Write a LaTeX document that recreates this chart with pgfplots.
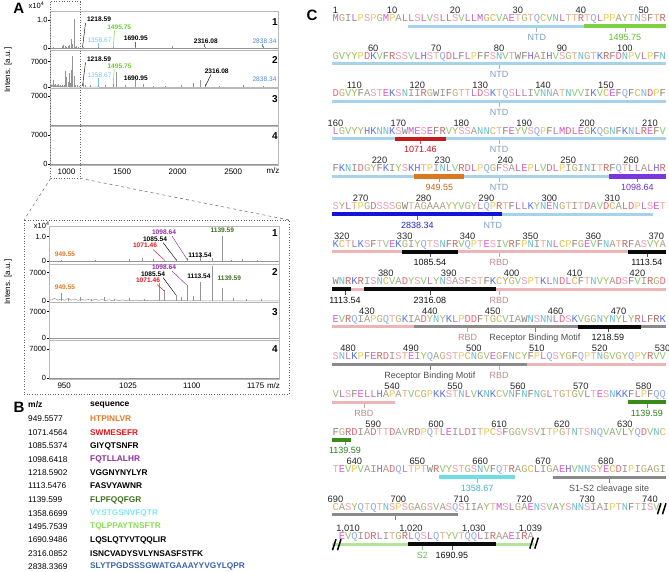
\documentclass[border=0pt]{standalone}
\usepackage{pgfplots}
\usepackage{pgfplotstable}
\pgfplotsset{compat=1.18}
\usepackage{fontspec}
\setmainfont{Liberation Sans}
\setsansfont{Liberation Sans}
\setmonofont{Liberation Mono}

% residue colours
\definecolor{aaA}{HTML}{9A8A76}
\definecolor{aaR}{HTML}{B5504C}
\definecolor{aaN}{HTML}{4FB3BF}
\definecolor{aaD}{HTML}{E0506E}
\definecolor{aaC}{HTML}{D6A93A}
\definecolor{aaQ}{HTML}{7D9EE0}
\definecolor{aaE}{HTML}{D63FCF}
\definecolor{aaG}{HTML}{A6A55E}
\definecolor{aaH}{HTML}{6A52C8}
\definecolor{aaI}{HTML}{8C8274}
\definecolor{aaL}{HTML}{B25F9E}
\definecolor{aaK}{HTML}{3D5DE0}
\definecolor{aaM}{HTML}{C23FB6}
\definecolor{aaF}{HTML}{7B6A5A}
\definecolor{aaP}{HTML}{E6C43E}
\definecolor{aaS}{HTML}{E98AA8}
\definecolor{aaT}{HTML}{E0A27A}
\definecolor{aaW}{HTML}{6E6E6E}
\definecolor{aaY}{HTML}{95AD3E}
\definecolor{aaV}{HTML}{79BE58}

% domain bars
\definecolor{ntd}{HTML}{A6D2EC}
\definecolor{rbd}{HTML}{EDB6B6}
\definecolor{rbm}{HTML}{8A8A8A}
\definecolor{s2bar}{HTML}{B2E49A}
% peptide bars
\definecolor{pg1495}{HTML}{7FD040}
\definecolor{pr1071}{HTML}{C41A1A}
\definecolor{po949}{HTML}{D9781E}
\definecolor{pp1098}{HTML}{7B35E0}
\definecolor{pb2838}{HTML}{1414D8}
\definecolor{pc1358}{HTML}{6EDDE8}
\definecolor{pdg1139}{HTML}{3A8A1C}
\definecolor{pblk}{HTML}{0A0A0A}
% label colours
\definecolor{ntdl}{HTML}{7C9FBF}
\definecolor{rbdl}{HTML}{B98A8A}
\definecolor{rbml}{HTML}{505050}
\definecolor{s2l}{HTML}{6CB860}
\definecolor{blk}{HTML}{111111}
\definecolor{g1495l}{HTML}{5DBB2A}
\definecolor{r1071l}{HTML}{C0141C}
\definecolor{o949l}{HTML}{C8671A}
\definecolor{p1098l}{HTML}{6A2FD0}
\definecolor{b2838l}{HTML}{2222C8}
\definecolor{c1358l}{HTML}{3FB5C0}
\definecolor{dg1139l}{HTML}{2E7D1A}
% spectrum annotation colours
\definecolor{sOr}{HTML}{E07A26}
\definecolor{sRd}{HTML}{E8141C}
\definecolor{sPu}{HTML}{8E2DA0}
\definecolor{sDg}{HTML}{3F6F1E}
\definecolor{sLb}{HTML}{7EC4F0}
\definecolor{sLg}{HTML}{6ACC30}
\definecolor{sBl}{HTML}{4F86D6}
\definecolor{tCy}{HTML}{80E8F5}
\definecolor{tLg}{HTML}{88DC58}
\definecolor{tBl}{HTML}{3B63B0}

% colour each residue letter of a sequence string
\newcommand\colseq[1]{\colseqi#1\relax}
\def\colseqi#1{\ifx\relax#1\else\textcolor{aa#1!85!white}{#1}\expandafter\colseqi\fi}

\newcommand\seqfont{\fontsize{10.483}{12}\ttfamily}
\newcommand\labfont{\fontsize{9}{10}\selectfont}

% MALDI spectra, lane 1 and lane 2
\pgfplotstableread{
mz int
949.55 300
968 150
990 250
1012 200
1030 700
1045 1200
1058 900
1071.46 600
1085.54 900
1098.64 1300
1113.54 3200
1127 1400
1139.59 10300
1150 500
1163 800
1180 300
1218.59 600
1265 250
1358.67 600
1430 200
1495.75 500
1580 200
1690.95 700
1790 150
2019 900
2150 200
2316.08 500
2560 150
2838.34 800
}\laneone

\pgfplotstableread{
mz int
949.55 2000
958 700
972 900
985 600
1000 900
1012 500
1030 700
1048 600
1065 4400
1071.46 2700
1085.54 1500
1091 900
1098.64 4000
1105 1200
1113.54 4800
1127 8600
1139.59 3200
1152 700
1168 500
1185 400
1218.59 1100
1245 700
1290 500
1358.67 1400
1420 600
1495.75 900
1524 4300
1600 600
1690.95 1900
1761 1000
1850 400
1960 300
2100 500
2208 1200
2274 2000
2316.08 800
2450 300
2661 600
2838.34 400
}\lanetwo

\pgfplotstableread{
mz int
930 300
934 550
938 200
942 650
946 250
950 500
954 180
958 600
962 220
966 480
970 150
974 420
978 200
982 380
986 120
990 450
994 160
998 350
1002 120
1006 300
1010 100
1014 280
1018 90
1022 260
1026 80
1030 240
1034 70
1038 220
1042 60
1046 200
1050 80
1054 180
1058 60
1062 160
1066 50
1070 150
1080 60
1090 120
1100 40
1110 90
1120 30
1140 60
1160 20
1200 40
1300 20
1500 10
2000 10
2975 0
}\noisetwo

\pgfplotsset{
  spec/.style={scale only axis, width=227.3pt,
    axis line style={draw=black!28, line width=0.5pt},
    xtick=\empty, ytick pos=left, tick align=outside,
    scaled y ticks=false, scaled x ticks=false,
    major tick length=2.5pt, tick style={black, line width=0.5pt},
    yticklabel style={font=\fontsize{7.5}{8}\selectfont, inner sep=0.5pt}},
  peaks/.style={ycomb, draw=black!42, line width=0.45pt, mark=none},
  base/.style={draw=black!42, line width=0.5pt, mark=none},
  bar/.style={line width=3pt, mark=none},
  pep/.style={line width=4.2pt, mark=none},
}

\tikzset{
  ann/.style={font=\fontsize{6.6}{7}\selectfont\bfseries, inner sep=0},
  pnum/.style={font=\fontsize{10}{11}\selectfont\bfseries, inner sep=0},
  seqn/.style={anchor=base west, inner sep=0, yshift=4.5pt, font=\seqfont},
  numn/.style={anchor=base, inner sep=0, yshift=12.6pt, font=\fontsize{9.3}{10}\selectfont, text=black!85},
  labn/.style={anchor=base, inner sep=0, yshift=-14pt, font=\labfont},
  tab/.style={anchor=west, inner sep=0, font=\fontsize{8.3}{9}\selectfont},
}

% label below a bar, with its tick
\newcommand\lab[4]{%
  \draw[draw=#3!75!white, line width=0.6pt] (axis cs:#1,#2) -- ++(0pt,-5.5pt);
  \node[labn, text=#3] at (axis cs:#1,#2) {#4};}
\newcommand\num[3]{\node[numn] at (axis cs:#1,#2) {#3};}

\begin{document}
\begin{tikzpicture}[x=1pt,y=1pt]

% ---------------- Panel A: full range
\begin{axis}[spec, anchor=north west, at={(50.7pt,-11.7pt)}, height=38.3pt,
  xmin=930, xmax=2975, ymin=-600, ymax=12930, ytick={0,10000}, yticklabels={0,1.0}]
\addplot[base] coordinates {(930,0)(2975,0)};
\addplot[peaks] table[x=mz,y=int] {\laneone};
\end{axis}
\begin{axis}[spec, anchor=north west, at={(50.7pt,-50pt)}, height=38.3pt,
  xmin=930, xmax=2975, ymin=-270, ymax=10200, ytick={0,7000}, yticklabels={0,7000}]
\addplot[base] table[x=mz,y=int] {\noisetwo};
\addplot[peaks] table[x=mz,y=int] {\lanetwo};
\end{axis}
\begin{axis}[spec, anchor=north west, at={(50.7pt,-88.3pt)}, height=38.4pt,
  xmin=930, xmax=2975, ymin=-330, ymax=8840, ytick={7000}, yticklabels={7000}]
\addplot[base] coordinates {(930,0)(2975,0)};
\end{axis}
\begin{axis}[spec, anchor=north west, at={(50.7pt,-126.7pt)}, height=38.3pt,
  xmin=930, xmax=2975, ymin=-170, ymax=8980, ytick={0,7000}, yticklabels={0,7000},
  xtick={1000,1500,2000,2500}, xticklabels={1000,1500,2000,2500},
  xtick pos=bottom, xtick style={draw=none},
  xticklabel style={font=\fontsize{8}{9}\selectfont, inner sep=1pt, xshift=8pt}]
\addplot[base] coordinates {(930,0)(2975,0)};
\end{axis}

% ---------------- Panel A: zoomed range
\begin{axis}[spec, width=229.7pt, anchor=north west, at={(49.3pt,-226.5pt)}, height=37.5pt,
  xmin=936, xmax=1206, ymin=-1230, ymax=14200, ytick={0,10000}, yticklabels={0,1.0}]
\addplot[base] coordinates {(936,0)(1206,0)};
\addplot[peaks] table[x=mz,y=int] {\laneone};
\end{axis}
\begin{axis}[spec, width=229.7pt, anchor=north west, at={(49.3pt,-264pt)}, height=38.3pt,
  xmin=936, xmax=1206, ymin=-320, ymax=9150, ytick={0,7000}, yticklabels={0,7000}]
\addplot[base] table[x=mz,y=int] {\noisetwo};
\addplot[peaks] table[x=mz,y=int] {\lanetwo};
\end{axis}
\begin{axis}[spec, width=229.7pt, anchor=north west, at={(49.3pt,-302.3pt)}, height=38.4pt,
  xmin=936, xmax=1206, ymin=-630, ymax=9470, ytick={0,7000}, yticklabels={0,7000}]
\addplot[base] coordinates {(936,0)(1206,0)};
\end{axis}
\begin{axis}[spec, width=229.7pt, anchor=north west, at={(49.3pt,-340.7pt)}, height=38.6pt,
  xmin=936, xmax=1206, ymin=-240, ymax=8980, ytick={0,7000}, yticklabels={0,7000},
  xtick={950,1025,1100,1175}, xticklabels={950,1025,1100,1175},
  xtick pos=bottom, xtick style={draw=none},
  xticklabel style={font=\fontsize{8}{9}\selectfont, inner sep=1pt, xshift=3pt}]
\addplot[base] coordinates {(936,0)(1206,0)};
\end{axis}

% zoom frames
\draw[black!60, dotted, line width=0.6pt] (50.7,-1.7) rectangle (80,-178.3);
\draw[black!60, dotted, line width=0.6pt] (24,-220) rectangle (289,-394);
\draw[black!60, dashed, line width=0.5pt] (50.7,-178.3) -- (24,-220);
\draw[black!60, dashed, line width=0.5pt] (80,-178.3) -- (289,-220);

% axis captions
\node[font=\fontsize{7.5}{8}\selectfont, inner sep=0] at (36.5,-5) {x10\textsuperscript{4}};
\node[font=\fontsize{7.5}{8}\selectfont, inner sep=0] at (41.7,-225.3) {x10\textsuperscript{4}};
\node[font=\fontsize{8}{9}\selectfont, inner sep=0] at (273,-171) {m/z};
\node[font=\fontsize{8}{9}\selectfont, inner sep=0] at (273.5,-386) {m/z};
\node[font=\fontsize{8}{9}\selectfont, inner sep=0, rotate=90] at (8,-70) {Intens. [a.u.]};
\node[font=\fontsize{8}{9}\selectfont, inner sep=0, rotate=90] at (8,-282) {Intens. [a.u.]};

% lane numbers
\node[pnum] at (275,-22) {1};
\node[pnum] at (275,-60) {2};
\node[pnum] at (275,-99) {3};
\node[pnum] at (275,-136) {4};
\node[pnum] at (275,-233) {1};
\node[pnum] at (275,-272) {2};
\node[pnum] at (275,-311.7) {3};
\node[pnum] at (275,-349) {4};

% peak annotations, full range lane 1
\node[ann, text=black] at (99,-19.3) {1218.59};
\draw[black, line width=0.45pt] (85.5,-23) -- (82.5,-47.5);
\node[ann, text=sLg] at (119.2,-27.3) {1495.75};
\draw[sLg, line width=0.45pt] (114.5,-30.5) -- (113.3,-47.5);
\node[ann, text=sLb, font=\fontsize{6.6}{7}\selectfont] at (99.5,-40) {1358.67};
\draw[sLb, line width=0.45pt] (98.3,-43.2) -- (98.3,-47.5);
\node[ann, text=black] at (135.8,-38.3) {1690.95};
\draw[black!60, line width=0.45pt] (135.2,-42) -- (135.2,-47.5);
\node[ann, text=black] at (205.8,-41) {2316.08};
\draw[black!60, line width=0.45pt] (204.7,-44.5) -- (204.7,-47.5);
\node[ann, text=sBl, font=\fontsize{6.6}{7}\selectfont] at (264.5,-41) {2838.34};
\draw[sBl, line width=0.45pt] (262.7,-44.5) -- (262.7,-47.5);
% full range lane 2
\node[ann, text=black] at (99,-59) {1218.59};
\draw[black, line width=0.45pt] (85.5,-62.5) -- (82.5,-86);
\node[ann, text=sLg] at (119.5,-66) {1495.75};
\draw[sLg, line width=0.45pt] (114.2,-69.3) -- (113.3,-86);
\node[ann, text=sLb, font=\fontsize{6.6}{7}\selectfont] at (99.5,-75) {1358.67};
\draw[sLb, line width=0.45pt] (98.3,-78.3) -- (98.3,-86);
\node[ann, text=black] at (135.8,-78) {1690.95};
\node[ann, text=black] at (216.7,-71) {2316.08};
\draw[black, line width=0.45pt] (211,-74.5) -- (205.5,-86);
\node[ann, text=sBl, font=\fontsize{6.6}{7}\selectfont] at (264.5,-79) {2838.34};
% zoomed lane 1
\node[ann, text=sOr] at (65,-254) {949.55};
\node[ann, text=sRd] at (145,-245.7) {1071.46};
\draw[sRd, line width=0.45pt] (153,-249.5) -- (164.4,-260);
\node[ann, text=black] at (155,-239) {1085.54};
\draw[black, line width=0.45pt] (163,-242.5) -- (176.3,-260);
\node[ann, text=sPu] at (164,-232.7) {1098.64};
\draw[sPu, line width=0.45pt] (172,-236) -- (187.5,-260);
\node[ann, text=black] at (200,-255) {1113.54};
\node[ann, text=sDg] at (222.3,-230) {1139.59};
% zoomed lane 2
\node[ann, text=sOr] at (65,-287.3) {949.55};
\node[ann, text=sRd] at (148,-280.7) {1071.46};
\draw[sRd, line width=0.45pt] (157,-284.5) -- (164.4,-291);
\node[ann, text=black] at (153,-274.3) {1085.54};
\draw[black, line width=0.45pt] (163,-277.5) -- (176,-295);
\node[ann, text=sPu] at (164,-267.7) {1098.64};
\draw[sPu, line width=0.45pt] (172,-271) -- (186.7,-285);
\node[ann, text=black] at (199,-276) {1113.54};
\node[ann, text=sDg] at (229.3,-278.3) {1139.59};

% panel letters
\node[font=\fontsize{15}{16}\selectfont\bfseries, inner sep=0] at (18.8,-8.7) {A};
\node[font=\fontsize{15}{16}\selectfont\bfseries, inner sep=0] at (19,-407.5) {B};
\node[font=\fontsize{15}{16}\selectfont\bfseries, inner sep=0] at (312,-15) {C};

% ---------------- Panel B: peptide table
\node[tab, font=\fontsize{8.5}{9}\selectfont\bfseries] at (28,-405) {m/z};
\node[tab, font=\fontsize{8.5}{9}\selectfont\bfseries] at (90,-405) {sequence};
\node[tab] at (28,-419) {949.5577};
\node[tab] at (28,-433) {1071.4564};
\node[tab] at (28,-446) {1085.5374};
\node[tab] at (28,-459.3) {1098.6418};
\node[tab] at (28,-472.7) {1218.5902};
\node[tab] at (28,-486) {1113.5476};
\node[tab] at (28,-500) {1139.599};
\node[tab] at (28,-513.3) {1358.6699};
\node[tab] at (28,-526.7) {1495.7539};
\node[tab] at (28,-540) {1690.9486};
\node[tab] at (28,-553.3) {2316.0852};
\node[tab] at (28,-566.3) {2838.3369};
\node[tab, text=sOr] at (90,-419) {\bfseries HTPINLVR};
\node[tab, text=sRd] at (90,-433) {\bfseries SWMESEFR};
\node[tab, text=black] at (90,-446) {\bfseries GIYQTSNFR};
\node[tab, text=sPu] at (90,-459.3) {\bfseries FQTLLALHR};
\node[tab, text=black] at (90,-472.7) {\bfseries VGGNYNYLYR};
\node[tab, text=black] at (90,-486) {\bfseries FASVYAWNR};
\node[tab, text=sDg] at (90,-500) {\bfseries FLPFQQFGR};
\node[tab, text=tCy] at (90,-513.3) {\bfseries VYSTGSNVFQTR};
\node[tab, text=tLg] at (90,-526.7) {\bfseries TQLPPAYTNSFTR};
\node[tab, text=black] at (90,-540) {\bfseries LQSLQTYVTQQLIR};
\node[tab, text=black] at (90,-553.3) {\bfseries ISNCVADYSVLYNSASFSTFK};
\node[tab, text=tBl] at (90,-566.3) {\bfseries SLYTPGDSSSGWATGAAAYYVGYLQPR};

% ---------------- Panel C: sequence coverage map
\begin{axis}[x=6.29pt, y=37.6pt, y dir=reverse, xmin=0, xmax=54, ymin=0, ymax=15.5,
  hide axis, clip=false, anchor=north west, at={(329.21pt,11.6pt)}]
% labels and their ticks
\lab{33}{1}{ntdl}{NTD}
\lab{47}{1}{g1495l}{1495.75}
\lab{27}{2}{ntdl}{NTD}
\lab{27}{3}{ntdl}{NTD}
\lab{14.5}{4}{r1071l}{1071.46}
\lab{27}{4}{ntdl}{NTD}
\lab{17.5}{5}{o949l}{949.55}
\lab{27}{5}{ntdl}{NTD}
\lab{49}{5}{p1098l}{1098.64}
\lab{14}{6}{b2838l}{2838.34}
\lab{26}{6}{ntdl}{NTD}
\lab{16}{7}{blk}{1085.54}
\lab{27}{7}{rbdl}{RBD}
\lab{50.5}{7}{blk}{1113.54}
\lab{2.5}{8}{blk}{1113.54}
\lab{16}{8}{blk}{2316.08}
\lab{27}{8}{rbdl}{RBD}
\lab{22}{9}{rbdl}{RBD}
\lab{32.7}{9}{rbml}{Receptor Binding Motif}
\lab{44.3}{9}{blk}{1218.59}
\lab{16}{10}{rbml}{Receptor Binding Motif}
\lab{27}{10}{rbdl}{RBD}
\lab{5.5}{11}{rbdl}{RBD}
\lab{50.5}{11}{dg1139l}{1139.59}
\lab{2.5}{12}{dg1139l}{1139.59}
\lab{23.5}{13}{c1358l}{1358.67}
\lab{44.5}{13}{rbml}{S1-S2 cleavage site}
\draw[draw=rbml!75!white, line width=0.6pt] (axis cs:10.5,14) -- ++(0pt,-5.5pt);
\lab{14.8}{14.78}{s2l}{S2}
\lab{19.5}{14.78}{blk}{1690.95}

% domain bars
\addplot[bar, ntd] coordinates {(12.5,1)(53.5,1)};
\addplot[bar, ntd] coordinates {(0.5,2)(53.5,2)};
\addplot[bar, ntd] coordinates {(0.5,3)(53.5,3)};
\addplot[bar, ntd] coordinates {(0.5,4)(53.5,4)};
\addplot[bar, ntd] coordinates {(0.5,5)(53.5,5)};
\addplot[bar, ntd] coordinates {(0.5,6)(51.5,6)};
\addplot[bar, rbd] coordinates {(0.5,7)(53.5,7)};
\addplot[bar, rbd] coordinates {(0.5,8)(53.5,8)};
\addplot[bar, rbd] coordinates {(0.5,9)(53.5,9)};
\addplot[bar, rbd] coordinates {(0.5,10)(53.5,10)};
\addplot[bar, rbd] coordinates {(0.5,11)(10.5,11)};
\addplot[bar, rbm] coordinates {(13.5,9)(53.5,9)};
\addplot[bar, rbm] coordinates {(0.5,10)(31.5,10)};
\addplot[bar, rbm] coordinates {(35.5,13)(53.5,13)};
\addplot[bar, rbm] coordinates {(0.5,14)(20.5,14)};
\addplot[bar, s2bar] coordinates {(0.5,14.78)(32.5,14.78)};
% peptide bars
\addplot[pep, pg1495] coordinates {(40.5,1)(53.5,1)};
\addplot[pep, pr1071] coordinates {(10.5,4)(18.5,4)};
\addplot[pep, po949] coordinates {(13.5,5)(21.5,5)};
\addplot[pep, pp1098] coordinates {(44.5,5)(53.5,5)};
\addplot[pep, pb2838] coordinates {(0.5,6)(27.5,6)};
\addplot[pep, pblk] coordinates {(11.5,7)(20.5,7)};
\addplot[pep, pblk] coordinates {(47.5,7)(53.5,7)};
\addplot[pep, pblk] coordinates {(0.5,8)(3.5,8)};
\addplot[pep, pblk] coordinates {(5.5,8)(26.5,8)};
\addplot[pep, pblk] coordinates {(39.5,9)(49.5,9)};
\addplot[pep, pdg1139] coordinates {(47.5,11)(53.5,11)};
\addplot[pep, pdg1139] coordinates {(0.5,12)(3.5,12)};
\addplot[pep, pc1358] coordinates {(17.5,13)(29.5,13)};
\addplot[pep, pblk] coordinates {(12.5,14.78)(26.5,14.78)};

% sequence rows
\node[seqn] at (axis cs:0.5,1) {\colseq{MGILPSPGMPALLSLVSLLSVLLMGCVAETGTQCVNLTTRTQLPPAYTNSFTR}};
\node[seqn] at (axis cs:0.5,2) {\colseq{GVYYPDKVFRSSVLHSTQDLFLPFFSNVTWFHAIHVSGTNGTKRFDNPVLPFN}};
\node[seqn] at (axis cs:0.5,3) {\colseq{DGVYFASTEKSNIIRGWIFGTTLDSKTQSLLIVNNATNVVIKVCEFQFCNDPF}};
\node[seqn] at (axis cs:0.5,4) {\colseq{LGVYYHKNNKSWMESEFRVYSSANNCTFEYVSQPFLMDLEGKQGNFKNLREFV}};
\node[seqn] at (axis cs:0.5,5) {\colseq{FKNIDGYFKIYSKHTPINLVRDLPQGFSALEPLVDLPIGINITRFQTLLALHR}};
\node[seqn] at (axis cs:0.5,6) {\colseq{SYLTPGDSSSGWTAGAAAYYVGYLQPRTFLLKYNENGTITDAVDCALDPLSET}};
\node[seqn] at (axis cs:0.5,7) {\colseq{KCTLKSFTVEKGIYQTSNFRVQPTESIVRFPNITNLCPFGEVFNATRFASVYA}};
\node[seqn] at (axis cs:0.5,8) {\colseq{WNRKRISNCVADYSVLYNSASFSTFKCYGVSPTKLNDLCFTNVYADSFVIRGD}};
\node[seqn] at (axis cs:0.5,9) {\colseq{EVRQIAPGQTGKIADYNYKLPDDFTGCVIAWNSNNLDSKVGGNYNYLYRLFRK}};
\node[seqn] at (axis cs:0.5,10) {\colseq{SNLKPFERDISTEIYQAGSTPCNGVEGFNCYFPLQSYGFQPTNGVGYQPYRVV}};
\node[seqn] at (axis cs:0.5,11) {\colseq{VLSFELLHAPATVCGPKKSTNLVKNKCVNFNFNGLTGTGVLTESNKKFLPFQQ}};
\node[seqn] at (axis cs:0.5,12) {\colseq{FGRDIADTTDAVRDPQTLEILDITPCSFGGVSVITPGTNTSNQVAVLYQDVNC}};
\node[seqn] at (axis cs:0.5,13) {\colseq{TEVPVAIHADQLTPTWRVYSTGSNVFQTRAGCLIGAEHVNNSYECDIPIGAGI}};
\node[seqn] at (axis cs:0.5,14) {\colseq{CASYQTQTNSPSGAGSVASQSIIAYTMSLGAENSVAYSNNSIAIPTNFTISV}};
\node[seqn] at (axis cs:1.5,14.78) {\colseq{EVQIDRLITGRLQSLQTYVTQQLIRAAEIRA}};

% residue numbers
\num{1}{1}{1}\num{10}{1}{10}\num{20}{1}{20}\num{30}{1}{30}\num{40}{1}{40}\num{50}{1}{50}
\num{7}{2}{60}\num{17}{2}{70}\num{27}{2}{80}\num{37}{2}{90}\num{47}{2}{100}
\num{4}{3}{110}\num{14}{3}{120}\num{24}{3}{130}\num{34}{3}{140}\num{44}{3}{150}
\num{1}{4}{160}\num{11}{4}{170}\num{21}{4}{180}\num{31}{4}{190}\num{41}{4}{200}\num{51}{4}{210}
\num{8}{5}{220}\num{18}{5}{230}\num{28}{5}{240}\num{38}{5}{250}\num{48}{5}{260}
\num{5}{6}{270}\num{15}{6}{280}\num{25}{6}{290}\num{35}{6}{300}\num{45}{6}{310}
\num{2}{7}{320}\num{12}{7}{330}\num{22}{7}{340}\num{32}{7}{350}\num{42}{7}{360}\num{52}{7}{370}
\num{9}{8}{380}\num{19}{8}{390}\num{29}{8}{400}\num{39}{8}{410}\num{49}{8}{420}
\num{6}{9}{430}\num{16}{9}{440}\num{26}{9}{450}\num{36}{9}{460}\num{46}{9}{470}
\num{3}{10}{480}\num{13}{10}{490}\num{23}{10}{500}\num{33}{10}{510}\num{43}{10}{520}\num{53}{10}{530}
\num{10}{11}{540}\num{20}{11}{550}\num{30}{11}{560}\num{40}{11}{570}\num{50}{11}{580}
\num{7}{12}{590}\num{17}{12}{600}\num{27}{12}{610}\num{37}{12}{620}\num{47}{12}{630}
\num{4}{13}{640}\num{14}{13}{650}\num{24}{13}{660}\num{34}{13}{670}\num{44}{13}{680}
\num{1}{14}{690}\num{11}{14}{700}\num{21}{14}{710}\num{31}{14}{720}\num{41}{14}{730}\num{51}{14}{740}
\num{3}{14.78}{1,010}\num{13}{14.78}{1,020}\num{23}{14.78}{1,030}\num{32}{14.78}{1,039}

% sequence breaks
\draw[black, line width=1.5pt] (axis cs:52.9,14) ++(-4.5pt,0.5pt) -- ++(3.5pt,11pt);
\draw[black, line width=1.5pt] (axis cs:52.9,14) ++(0.5pt,0.5pt) -- ++(3.5pt,11pt);
\draw[black, line width=1.5pt] (axis cs:32.6,14.78) ++(-4.5pt,-4.5pt) -- ++(3.5pt,11pt);
\draw[black, line width=1.5pt] (axis cs:32.6,14.78) ++(0.5pt,-4.5pt) -- ++(3.5pt,11pt);
\draw[black, line width=1.5pt] (axis cs:1.24,14.78) ++(-4.5pt,-6pt) -- ++(3.5pt,11pt);
\draw[black, line width=1.5pt] (axis cs:1.24,14.78) ++(0.5pt,-6pt) -- ++(3.5pt,11pt);
\end{axis}

% picture frame
\pgfresetboundingbox
\useasboundingbox (0,0) rectangle (669,-572);
\end{tikzpicture}
\end{document}
